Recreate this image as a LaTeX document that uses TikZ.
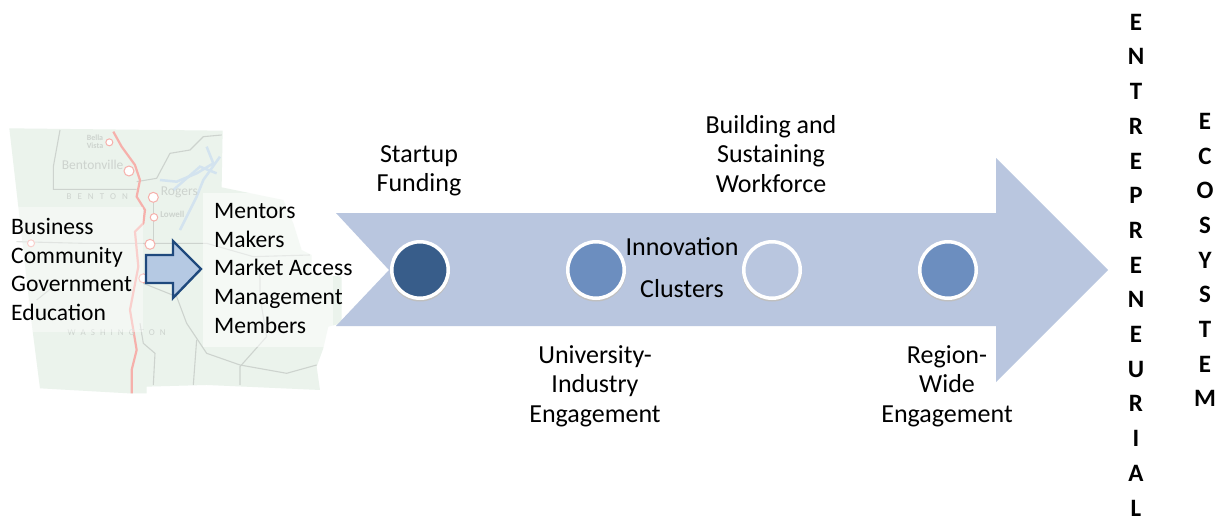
\documentclass[tikz,border=0pt]{standalone}
\usepackage{fontspec}
\setmainfont{Carlito}
\usepackage{tikz}
\usetikzlibrary{calc}
\definecolor{arrowblue}{HTML}{B9C6DF}
\definecolor{darkdot}{HTML}{385D8A}
\definecolor{middot}{HTML}{6C8EBF}
\definecolor{smallfill}{HTML}{B5C9E3}
\definecolor{smallline}{HTML}{1F497D}
\definecolor{mapgreen}{HTML}{EBF3EC}
\definecolor{mapgrey}{HTML}{CDD3CE}
\definecolor{mappink}{HTML}{F6B0AB}
\definecolor{maplake}{HTML}{D3E3EF}
\definecolor{mapword}{HTML}{CDD3CE}
\tikzset{x=1pt, y=-1pt,
  caption/.style={font=\fontsize{26}{29.5}\selectfont, align=center, inner sep=0pt},
  listing/.style={font=\fontsize{23.6}{28.7}\selectfont, align=left, inner sep=0pt},
  spelled/.style={font=\fontsize{25}{34.7}\selectfont\bfseries, align=center, inner sep=0pt},
  road/.style={draw=mapgrey, line width=1.1pt},
  highway/.style={draw=mappink, line width=2.2pt},
  town/.style={circle, draw=mappink, fill=white, line width=1pt, inner sep=0pt, minimum size=#1},
  mapword/.style={text=mapword, inner sep=0pt}
}
% one milestone on the big arrow
\def\Milestone#1#2#3{%
\fill[black!25] (#2,271.5) circle (30);
\node (#1) [circle, draw=white, line width=3.5pt, fill=#3, minimum size=56.5pt, inner sep=0pt] at (#2,270) {};
}
\def\Town#1#2#3{%
\node[town=#3] at (#1,#2) {};
}
\begin{document}
\begin{tikzpicture}
\useasboundingbox (0,0) rectangle (1225,520);
\fill[white] (0,0) rectangle (1225,520);
% the map, traced at three times its size
\begin{scope}[shift={(0,110)}, x=0.3333pt, y=-0.3333pt]
  \fill[mapgreen] (28,55) -- (668,62) -- (665,232) -- (850,270) -- (880,340) -- (905,420) -- (935,435) -- (935,490) -- (1025,500) -- (1025,640) -- (985,650) -- (970,715) -- (950,770) -- (960,840) -- (620,825) -- (440,830) -- (440,850) -- (385,850) -- (120,835) -- (95,640) -- cycle;
  \draw[draw=maplake, line width=2.5pt] (620,110) -- (640,160) -- (590,190) -- (530,215) -- (480,210);
  \draw[draw=maplake, line width=2.5pt] (660,140) -- (610,210) -- (590,260) -- (560,320) -- (540,360);
  \draw[draw=maplake, line width=2.5pt] (650,190) -- (600,170) -- (560,205) -- (520,240);
  \draw[road] (180,60) -- (160,170) -- (160,238) -- (410,238);
  \draw[road] (410,215) -- (470,205) -- (510,130) -- (570,120) -- (610,80) -- (665,75);
  \draw[road] (50,395) -- (250,400) -- (450,400) -- (620,400) -- (760,440) -- (930,435);
  \draw[road, line width=1.6pt] (460,262) -- (460,400);
  \draw[road] (430,520) -- (530,560) -- (560,640) -- (620,730) -- (720,765) -- (860,790) -- (950,765);
  \draw[road] (420,640) -- (430,700) -- (465,730) -- (460,825);
  \draw[road] (780,490) -- (780,560) -- (800,680) -- (720,770) -- (720,825);
  \draw[road] (590,690) -- (580,825);
  \draw[road] (160,530) -- (110,570);
  \draw[highway] (340,65) -- (365,110) -- (405,165) -- (420,210) -- (410,260) -- (435,300) -- (430,340) -- (405,365) -- (415,470) -- (390,600) -- (410,720) -- (395,780) -- (395,850);
  \Town{328}{97}{7pt}
  \Town{387}{183}{10pt}
  \Town{460}{262}{10pt}
  \Town{462}{322}{7.5pt}
  \Town{450}{403}{10pt}
  \Town{430}{505}{9pt}
  \Town{93}{400}{7pt}
  \node[mapword, font=\fontsize{8}{8}\selectfont\bfseries, align=center] (bella) at (285,96) {Bella\\Vista};
  \node[mapword, font=\fontsize{13.5}{13.5}\selectfont] (bentonville) at (278,165) {Bentonville};
  \node[mapword, font=\fontsize{13.5}{13.5}\selectfont] (rogers) at (538,247) {Rogers};
  \node[mapword, font=\fontsize{9}{9}\selectfont\bfseries] (lowell) at (517,312) {Lowell};
  \node[mapword, font=\fontsize{9}{9}\selectfont] (benton) at (292,260) {B\hspace{6pt}E\hspace{6pt}N\hspace{6pt}T\hspace{6pt}O\hspace{6pt}N};
  \node[mapword, font=\fontsize{9}{9}\selectfont] (washington) at (350,667) {W\hspace{5pt}A\hspace{5pt}S\hspace{5pt}H\hspace{5pt}I\hspace{5pt}N\hspace{5pt}G\hspace{5pt}T\hspace{5pt}O\hspace{5pt}N};
  % pale panels behind the two lists
  \fill[white, opacity=.4] (50,290) rectangle (430,665);
  \fill[white, opacity=.5] (610,250) rectangle (1000,710);
\end{scope}
% big arrow
\fill[arrowblue] (336,213) -- (996,213) -- (996,158) -- (1108,270) -- (996,382) -- (996,326) -- (336,326) -- (389,270) -- cycle;
\filldraw[draw=smallline, line width=2.4pt, fill=smallfill, line join=miter] (146,255) -- (173,255) -- (173,241) -- (201,269) -- (173,298) -- (173,283) -- (146,283) -- cycle;
\Milestone{funding}{420}{darkdot}
\Milestone{university}{596}{middot}
\Milestone{workforce}{772}{arrowblue}
\Milestone{region}{948}{middot}
\node (inbound) [listing, anchor=west] at (11,269.5) {Business\\Community\\Government\\Education};
\node (outbound) [listing, anchor=west] at (214,268.5) {Mentors\\Makers\\Market Access\\Management\\Members};
\node (fundinglabel) [caption] at (419,171) {Startup\\Funding};
\node (workforcelabel) [caption] at (771,154) {Building and\\Sustaining\\Workforce};
\node (universitylabel) [caption] at (595,386) {University-\\Industry\\Engagement};
\node (regionlabel) [caption] at (947,386) {Region-\\Wide\\Engagement};
\node (clusters) [caption, font=\fontsize{26}{42}\selectfont] at (682,268) {Innovation\\Clusters};
\node (entrepreneurial) [spelled] at (1136,265) {E\\N\\T\\R\\E\\P\\R\\E\\N\\E\\U\\R\\I\\A\\L};
\node (ecosystem) [spelled] at (1205,260) {E\\C\\O\\S\\Y\\S\\T\\E\\M};
\end{tikzpicture}
\end{document}
